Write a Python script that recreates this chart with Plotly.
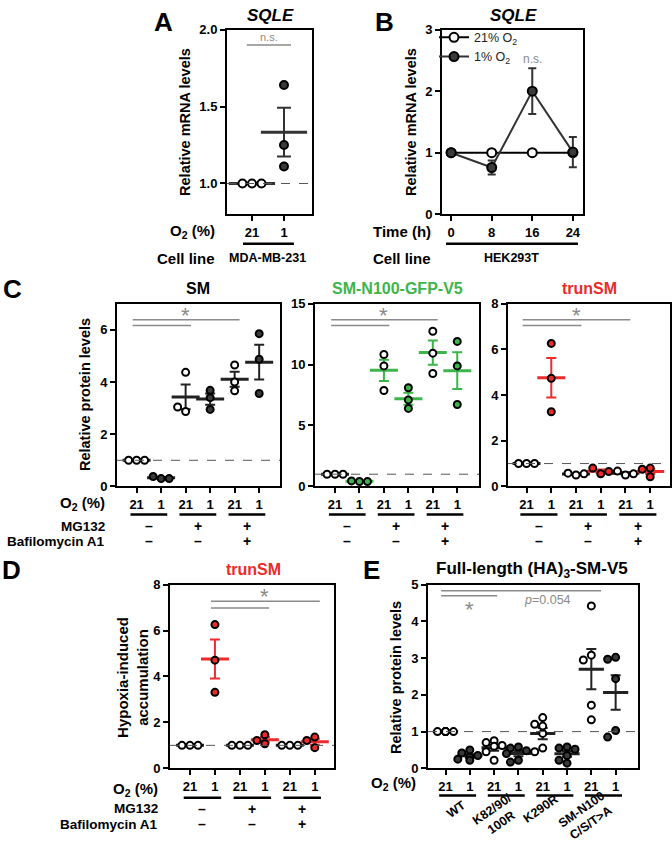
import numpy as np
import plotly.graph_objects as go

W, H = 672, 850
FONT = "Liberation Sans, Arial, sans-serif"
DARK = "#3a3a3a"
GREEN = "#3cb54a"
RED = "#ee2a2a"
GREY = "#8a8a8a"
O2 = "O<sub>2</sub> (%)"

# ---------------- data ----------------
# A: SQLE mRNA, MDA-MB-231
a_o2 = ["21", "1"]
a_vals = [[1.0, 1.0, 1.0], [1.64, 1.25, 1.11]]

# B: SQLE mRNA time course, HEK293T
b_time = [0, 8, 16, 24]
b_21 = [1.0, 1.0, 1.0, 1.0]
b_1 = [1.0, 0.76, 2.0, 1.01]
b_1_sem = [0.0, 0.115, 0.37, 0.245]

# C: protein levels (21/1 pairs: untreated, MG132, MG132+Baf)
c_o2 = ["21", "1", "21", "1", "21", "1"]
c_mg132 = ["–", "+", "+"]
c_baf = ["–", "–", "+"]
sm_vals = [[1, 1, 1], [0.3, 0.38, 0.3], [2.87, 4.37, 3.04],
           [3.68, 2.95, 3.4], [3.66, 4.65, 4.0], [3.56, 5.85, 4.87]]
gfp_vals = [[1, 1, 1], [0.4, 0.45, 0.4], [10.83, 9.89, 7.87],
            [8.1, 7.1, 6.4], [12.74, 10.94, 9.27], [11.9, 9.89, 6.72]]
trun_vals = [[1, 1, 1], [6.26, 4.73, 3.27], [0.5, 0.58, 0.55],
             [0.55, 0.8, 0.65], [0.5, 0.67, 0.55], [0.8, 0.42, 0.75]]

# D: hypoxia-induced accumulation of trunSM
d_vals = [[1, 1, 1], [6.26, 4.71, 3.31], [1, 1, 1],
          [1.46, 1.07, 1.21], [1, 1, 1], [1.36, 0.9, 1.21]]

# E: full-length (HA)3-SM-V5 mutants
e_o2 = ["21", "1"] * 4
e_mutants = ["WT", "K82/90/<br>100R", "K290R", "SM-N100<br>C/S/T>A"]
e_vals = [[1, 1, 1, 1, 1, 1],
          [0.5, 0.42, 0.35, 0.3, 0.25, 0.22],
          [0.75, 0.7, 0.62, 0.6, 0.45, 0.22],
          [0.58, 0.55, 0.48, 0.4, 0.22, 0.17],
          [1.38, 1.2, 1.15, 0.95, 0.55, 0.45],
          [0.58, 0.55, 0.52, 0.35, 0.22, 0.14],
          [4.42, 3.08, 2.95, 1.72, 1.32],
          [3.02, 2.97, 2.44, 1.03, 0.85]]


def px(x):
    return x / W


def py(y):
    return 1 - y / H


fig = go.Figure()
layout = dict(width=W, height=H, margin=dict(l=0, r=0, t=0, b=0),
              plot_bgcolor="white", paper_bgcolor="white",
              font=dict(family=FONT, color="black"),
              annotations=[], shapes=[])

# panel geometry in pixels: x0, x1, y_top, y_bottom
PANELS = {
    1: dict(box=(227, 312, 23, 211), xr=(-0.78, 1.875), yr=(0.8, 2.0), yt=[1.0, 1.5, 2.0], fmt=".1f"),
    2: dict(box=(442, 583, 23, 211), xr=(-1.8, 26), yr=(0, 3), yt=[0, 1, 2, 3]),
    3: dict(box=(117, 280, 302, 488), xr=(-0.8, 5.85), yr=(0, 7), yt=[0, 2, 4, 6]),
    4: dict(box=(315, 479, 302, 488), xr=(-0.82, 5.89), yr=(0, 15), yt=[0, 5, 10, 15]),
    5: dict(box=(508, 670, 302, 488), xr=(-0.75, 5.8), yr=(0, 8), yt=[0, 2, 4, 6, 8]),
    6: dict(box=(170, 334, 588, 775), xr=(-0.8, 5.77), yr=(0, 8), yt=[0, 2, 4, 6, 8]),
    7: dict(box=(428, 638, 588, 775), xr=(-0.72, 7.92), yr=(0, 5), yt=[0, 1, 2, 3, 4, 5]),
}

for n, p in PANELS.items():
    x0, x1, yt_, yb = p["box"]
    sfx = "" if n == 1 else str(n)
    common = dict(showline=True, linecolor="black", linewidth=2, mirror=True,
                  ticks="outside", ticklen=5, tickwidth=2, tickcolor="black",
                  showgrid=False, zeroline=False,
                  tickfont=dict(size=13, family=FONT, weight="bold"))
    layout["xaxis" + sfx] = dict(common, domain=[px(x0), px(x1)], range=list(p["xr"]),
                                 anchor="y" + sfx)
    layout["yaxis" + sfx] = dict(common, domain=[py(yb), py(yt_)], range=list(p["yr"]),
                                 tickvals=p["yt"], anchor="x" + sfx,
                                 tickformat=p.get("fmt", ""))

layout["xaxis"].update(tickvals=[0, 1], ticktext=a_o2)
layout["xaxis2"].update(tickvals=b_time, ticktext=[str(t) for t in b_time])
for n in (3, 4, 5, 6):
    layout["xaxis%d" % n].update(tickvals=list(range(6)), ticktext=c_o2)
layout["xaxis7"].update(tickvals=list(range(8)), ticktext=e_o2)


def swarm(vals, n, d):
    p = PANELS[n]
    x0, x1, yt_, yb = p["box"]
    ppu_y = (yb - yt_) / (p["yr"][1] - p["yr"][0])
    ppu_x = (x1 - x0) / (p["xr"][1] - p["xr"][0])
    placed, out = [], []
    for v in vals:
        yy = v * ppu_y
        best = 0
        for k in [0, -1, 1, -0.6, 0.6, -1.5, 1.5]:
            xx = k * d
            if all((xx - a) ** 2 + (yy - b) ** 2 >= (0.85 * d) ** 2 for a, b in placed):
                best = xx
                break
        placed.append((best, yy))
        out.append(best / ppu_x)
    return out


def strip(n, groups, fills, bars, d=8, msize=7, bar_w=20, cap=5):
    sfx = "" if n == 1 else str(n)
    for i, vals in enumerate(groups):
        v = np.array(vals, float)
        sem = v.std(ddof=1) / np.sqrt(len(v))
        fig.add_trace(go.Scatter(
            x=[i], y=[v.mean()], xaxis="x" + sfx, yaxis="y" + sfx, mode="markers",
            showlegend=False, hoverinfo="skip",
            marker=dict(symbol="line-ew", size=bar_w, line=dict(width=3, color=bars[i])),
            error_y=dict(type="data", array=[sem], color=bars[i], thickness=2, width=cap)))
    for i, vals in enumerate(groups):
        offs = swarm(vals, n, d)
        fig.add_trace(go.Scatter(
            x=[i + o for o in offs], y=vals, xaxis="x" + sfx, yaxis="y" + sfx,
            mode="markers", showlegend=False,
            marker=dict(size=msize, color=fills[i], line=dict(width=2, color="black"))))


def hline1(n):
    sfx = "" if n == 1 else str(n)
    layout["shapes"].append(dict(type="line", xref="x%s domain" % sfx, yref="y" + sfx,
                                 x0=0, x1=1, y0=1, y1=1,
                                 line=dict(color="#555", width=1, dash="dash")))


def ann(text, x, y, size=13, color="black", bold=True, xanchor="center", xref="paper",
        angle=0, italic=False):
    layout["annotations"].append(dict(
        text=text, x=x, y=y, xref=xref, yref="paper", showarrow=False,
        xanchor=xanchor, yanchor="middle", textangle=angle,
        font=dict(size=size, color=color, family=FONT,
                  weight="bold" if bold else "normal",
                  style="italic" if italic else "normal")))


def seg(n, xa, xb, ypx, color="black", width=2.5):
    sfx = "" if n == 1 else str(n)
    layout["shapes"].append(dict(type="line", xref="x" + sfx, yref="paper",
                                 x0=xa, x1=xb, y0=py(ypx), y1=py(ypx),
                                 line=dict(color=color, width=width)))


LET, TIT, YT, ROW, ROW2 = 26, 16, 14.5, 15, 13.5

# ---------------- panel A ----------------
hline1(1)
strip(1, a_vals, ["white", DARK], ["#333", "#333"], d=9.5, msize=8, bar_w=33, cap=7)
ann("A", px(163), py(15), size=LET)
ann("SQLE", px(270), py(9), size=17, italic=True)
ann("Relative mRNA levels", px(185), py(117), size=YT, angle=-90)
seg(1, -0.16, 1.22, 38.7, GREY, 1.5)
ann("n.s.", 0.53, py(31), size=11, color=GREY, bold=False, xref="x")
ann(O2, px(217), py(229), size=ROW, xanchor="right")
seg(1, -0.28, 1.31, 241)
ann("Cell line", px(217), py(256), size=ROW, xanchor="right")
ann("MDA-MB-231", 0.5, py(256), size=12.5, xref="x")

# ---------------- panel B ----------------
fig.add_trace(go.Scatter(x=b_time, y=b_21, xaxis="x2", yaxis="y2", mode="lines+markers",
                         name="21% O<sub>2</sub>", line=dict(color="black", width=2),
                         marker=dict(size=9, color="white", line=dict(width=2, color="black"))))
fig.add_trace(go.Scatter(x=b_time, y=b_1, xaxis="x2", yaxis="y2", mode="lines+markers",
                         name="1% O<sub>2</sub>", line=dict(color="#333", width=2),
                         error_y=dict(type="data", array=b_1_sem, color="#333", thickness=2, width=4),
                         marker=dict(size=9, color=DARK, line=dict(width=2, color="black"))))
ann("B", px(384), py(15), size=LET)
ann("SQLE", px(513), py(9), size=17, italic=True)
ann("Relative mRNA levels", px(411), py(117), size=YT, angle=-90)
ann("n.s.", 16, py(53), size=12, color=GREY, bold=False, xref="x2")
ann("Time (h)", px(433), py(229), size=ROW, xanchor="right")
seg(2, -1, 25, 241)
ann("Cell line", px(433), py(256), size=ROW, xanchor="right")
ann("HEK293T", 12, py(256), size=12.5, xref="x2")

# ---------------- panel C ----------------
c_titles = [("SM", "black"), ("SM-N100-GFP-V5", GREEN), ("trunSM", RED)]
c_data = [sm_vals, gfp_vals, trun_vals]
c_fills = [["white", DARK] * 3, ["white", GREEN] * 3, ["white", RED] * 3]
c_bars = [["#222"] * 6, ["#222"] + [GREEN] * 5, ["#222", RED] * 3]
c_centers = [198, 397, 589]
for k, n in enumerate((3, 4, 5)):
    hline1(n)
    strip(n, c_data[k], c_fills[k], c_bars[k])
    ann(c_titles[k][0], px(c_centers[k]), py(287), size=TIT, color=c_titles[k][1])
    seg(n, -0.16, 4.2, 318.3, GREY, 1.5)
    seg(n, -0.16, 2.22, 324.3, GREY, 1.5)
    ann("*", 2.0, py(314), size=22, color=GREY, bold=False, xref="x%d" % n)
    for g in range(3):
        seg(n, 2 * g - 0.25, 2 * g + 1.25, 516.7)
        ann(c_mg132[g], 2 * g + 0.5, py(528.5), size=14, xref="x%d" % n)
        ann(c_baf[g], 2 * g + 0.5, py(544), size=14, xref="x%d" % n)
ann("C", px(12), py(287), size=LET)
ann("Relative protein levels", px(85), py(395), size=YT, angle=-90)
ann(O2, px(107), py(505), size=ROW, xanchor="right")
ann("MG132", px(107), py(528.5), size=ROW2, xanchor="right")
ann("Bafilomycin A1", px(107), py(544.5), size=ROW2, xanchor="right")

# ---------------- panel D ----------------
hline1(6)
strip(6, d_vals, ["white", RED] * 3, ["#222", RED] * 3)
ann("D", px(11), py(573), size=LET)
ann("trunSM", px(253), py(573), size=TIT, color=RED)
ann("Hypoxia-induced<br>accumulation", px(133), py(683), size=15, angle=-90)
seg(6, 0.84, 5.2, 605, GREY, 1.5)
seg(6, 0.84, 3.17, 611.7, GREY, 1.5)
ann("*", 3.0, py(600), size=22, color=GREY, bold=False, xref="x6")
for g in range(3):
    seg(6, 2 * g - 0.25, 2 * g + 1.25, 805)
    ann(c_mg132[g], 2 * g + 0.5, py(816), size=14, xref="x6")
    ann(c_baf[g], 2 * g + 0.5, py(832), size=14, xref="x6")
ann(O2, px(160), py(797), size=ROW, xanchor="right")
ann("MG132", px(160), py(816), size=ROW2, xanchor="right")
ann("Bafilomycin A1", px(160), py(832.5), size=ROW2, xanchor="right")

# ---------------- panel E ----------------
hline1(7)
strip(7, e_vals, ["white", DARK] * 4, ["#222"] * 8, d=8, msize=7, bar_w=18)
ann("E", px(371), py(573), size=LET)
ann("Full-length (HA)<sub>3</sub>-SM-V5", px(532), py(573), size=17)
ann("Relative protein levels", px(396), py(683), size=YT, angle=-90)
seg(7, -0.18, 6.4, 594.3, GREY, 1.5)
seg(7, -0.18, 2.13, 599.3, GREY, 1.5)
ann("*", 1.0, py(613), size=22, color=GREY, bold=False, xref="x7")
ann("<i>p</i>=0.054", 4.2, py(604), size=12.5, color=GREY, bold=False, xref="x7")
ann(O2, px(418), py(790), size=ROW, xanchor="right")
e_lab_x = [0.45, 2.1, 3.9, 5.8]
e_lab_y = [816, 824, 816, 824]
for g in range(4):
    seg(7, 2 * g - 0.26, 2 * g + 1.26, 802.7)
    ann(e_mutants[g], e_lab_x[g], py(e_lab_y[g]), size=12.5, angle=-35, xref="x7")

layout["legend"] = dict(x=px(434), y=py(16), xanchor="left", yanchor="top",
                        bgcolor="rgba(0,0,0,0)", font=dict(size=12.5, family=FONT, color="#222"),
                        itemwidth=30, tracegroupgap=0)
layout["showlegend"] = True
fig.update_layout(**layout)
fig.write_html("out.html", config={"displayModeBar": False},
               post_script="document.body.style.margin='0';")
